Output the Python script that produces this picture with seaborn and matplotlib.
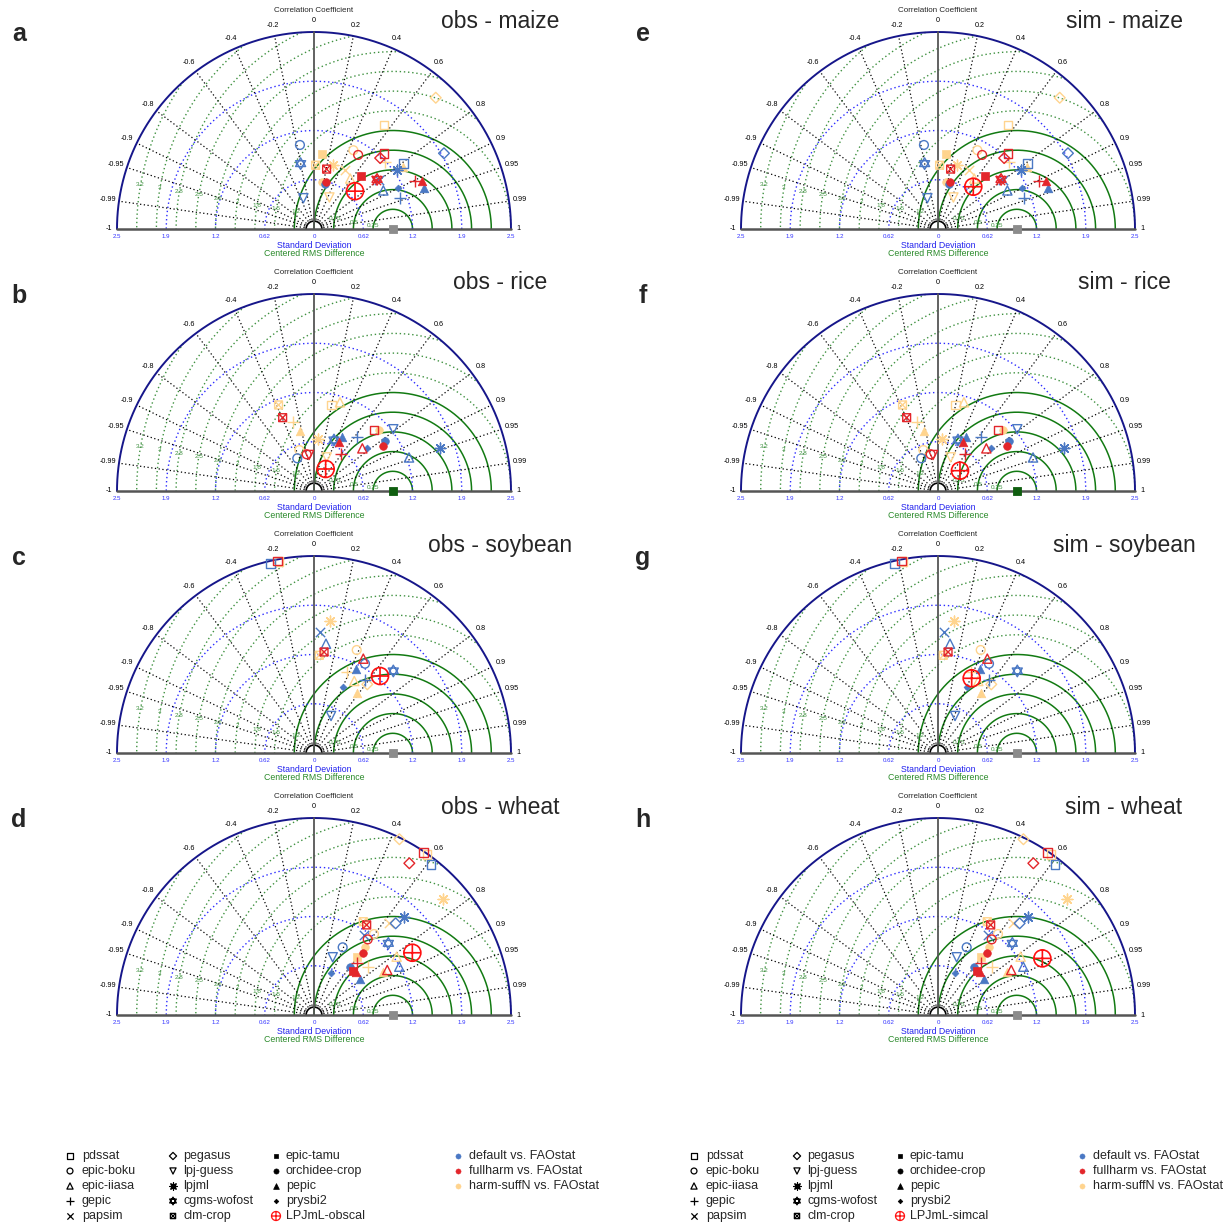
import numpy as np
import matplotlib
matplotlib.use("Agg")
import matplotlib.pyplot as plt
from matplotlib.path import Path
import seaborn as sns

# ---------------- data (std. deviation, correlation) ----------------
CROPS = ["maize", "rice", "soybean", "wheat"]
PANEL_LETTERS_OBS = ["a", "b", "c", "d"]
PANEL_LETTERS_SIM = ["e", "f", "g", "h"]

MAIZE_DEFAULT = [("pdssat", 1.410, 0.808), ("epic-boku", 1.081, -0.165), ("epic-iiasa", 1.007, 0.874),
                 ("gepic", 1.161, 0.939), ("papsim", 1.036, 0.801), ("pegasus", 1.909, 0.864),
                 ("lpj-guess", 0.413, -0.327), ("lpjml", 1.294, 0.815), ("cgms-wofost", 0.847, -0.201),
                 ("orchidee-crop", 0.587, 0.238), ("pepic", 1.493, 0.937), ("prysbi2", 1.190, 0.899)]
MAIZE_FULLHARM = [("pdssat", 1.309, 0.680), ("epic-boku", 1.094, 0.512), ("gepic", 1.418, 0.903),
                  ("papsim", 1.004, 0.787), ("pegasus", 1.231, 0.682), ("cgms-wofost", 1.018, 0.786),
                  ("clm-crop", 0.777, 0.206), ("epic-tamu", 0.893, 0.661), ("orchidee-crop", 0.618, 0.243),
                  ("pepic", 1.500, 0.913)]
MAIZE_HARMSUFFN = [("pdssat", 1.591, 0.558), ("epic-boku", 1.118, 0.447), ("epic-iiasa", 0.788, 0.584),
                   ("gepic", 1.238, 0.727), ("papsim", 0.845, 0.461), ("pegasus", 2.272, 0.680),
                   ("lpj-guess", 0.445, 0.438), ("lpjml", 0.846, 0.290), ("clm-crop", 0.810, 0.025),
                   ("epic-tamu", 0.956, 0.110), ("orchidee-crop", 0.608, 0.164), ("pepic", 1.379, 0.819)]
MAIZE_LPJML_OBS = (0.708, 0.735)
MAIZE_LPJML_SIM = (0.699, 0.641)

RICE_DEFAULT = [("epic-boku", 0.466, -0.455), ("epic-iiasa", 1.279, 0.943), ("gepic", 0.877, 0.618),
                ("lpj-guess", 1.275, 0.789), ("lpjml", 1.688, 0.947), ("cgms-wofost", 0.695, 0.365),
                ("orchidee-crop", 1.102, 0.817), ("pepic", 0.773, 0.454), ("prysbi2", 0.872, 0.776)]
RICE_FULLHARM = [("epic-boku", 0.475, -0.196), ("epic-iiasa", 0.818, 0.750), ("gepic", 0.579, 0.592),
                 ("pdssat", 1.086, 0.701), ("lpj-guess", 0.461, -0.137), ("clm-crop", 1.012, -0.393),
                 ("orchidee-crop", 1.049, 0.839), ("pepic", 0.702, 0.452)]
RICE_HARMSUFFN = [("pdssat", 1.114, 0.201), ("epic-boku", 0.552, -0.337), ("epic-iiasa", 1.173, 0.281),
                  ("gepic", 0.912, -0.296), ("lpj-guess", 0.456, 0.353), ("lpjml", 0.662, 0.083),
                  ("clm-crop", 1.181, -0.381), ("orchidee-crop", 1.134, 0.731), ("pepic", 0.785, -0.227)]
RICE_LPJML_OBS = (0.316, 0.468)
RICE_LPJML_SIM = (0.380, 0.734)

SOY_DEFAULT = [("pdssat", 2.464, -0.223), ("papsim", 1.542, 0.049), ("epic-iiasa", 1.395, 0.109),
               ("epic-boku", 1.305, 0.496), ("pepic", 1.188, 0.449), ("cgms-wofost", 1.448, 0.695),
               ("gepic", 1.126, 0.575), ("prysbi2", 0.917, 0.397), ("lpj-guess", 0.517, 0.418)]
SOY_FULLHARM = [("pdssat", 2.480, -0.186), ("epic-iiasa", 1.351, 0.463), ("clm-crop", 1.288, 0.099)]
SOY_HARMSUFFN = [("pdssat", 2.470, -0.180), ("lpjml", 1.687, 0.120), ("clm-crop", 1.242, 0.054),
                 ("epic-boku", 1.415, 0.383), ("gepic", 1.112, 0.373), ("epic-iiasa", 1.047, 0.488),
                 ("pegasus", 1.103, 0.613), ("pepic", 0.938, 0.578)]
SOY_LPJML_OBS = (1.287, 0.651)
SOY_LPJML_SIM = (1.040, 0.411)

WHEAT_DEFAULT = [("pdssat", 2.421, 0.613), ("lpjml", 1.691, 0.675), ("pegasus", 1.558, 0.665),
                 ("papsim", 1.199, 0.532), ("epic-boku", 0.933, 0.390), ("lpj-guess", 0.770, 0.308),
                 ("cgms-wofost", 1.310, 0.720), ("epic-iiasa", 1.244, 0.870), ("orchidee-crop", 0.758, 0.603),
                 ("prysbi2", 0.570, 0.372), ("pepic", 0.739, 0.790)]
WHEAT_FULLHARM = [("pdssat", 2.487, 0.558), ("pegasus", 2.274, 0.532), ("clm-crop", 1.324, 0.505),
                  ("epic-boku", 1.177, 0.579), ("orchidee-crop", 1.008, 0.621), ("epic-iiasa", 1.091, 0.852),
                  ("gepic", 0.851, 0.637), ("pepic", 0.766, 0.696), ("epic-tamu", 0.752, 0.664)]
WHEAT_HARMSUFFN = [("pegasus", 2.480, 0.437), ("pdssat", 2.490, 0.575), ("lpjml", 2.204, 0.744),
                   ("papsim", 1.512, 0.632), ("clm-crop", 1.339, 0.467), ("epic-boku", 1.279, 0.595),
                   ("orchidee-crop", 1.082, 0.598), ("epic-tamu", 0.917, 0.591), ("epic-iiasa", 1.284, 0.817),
                   ("pepic", 1.038, 0.848), ("gepic", 0.922, 0.747)]
WHEAT_LPJML_OBS = (1.477, 0.845)
WHEAT_LPJML_SIM = (1.507, 0.879)

REF_STD = 1.0
REF_COLORS = ["#8c8c8c", "#0f5e0f", "#8c8c8c", "#8c8c8c"]

STD_TICKS = [0.625, 1.25, 1.875, 2.5]
STD_TICK_LABELS = ["0.62", "1.2", "1.9", "2.5"]
CORR_TICKS = [0, 0.2, 0.4, 0.6, 0.8, 0.9, 0.95, 0.99, 1,
              -0.2, -0.4, -0.6, -0.8, -0.9, -0.95, -0.99, -1]
CORR_LABELS = ["0", "0.2", "0.4", "0.6", "0.8", "0.9", "0.95", "0.99", "1",
               "-0.2", "-0.4", "-0.6", "-0.8", "-0.9", "-0.95", "-0.99", "-1"]
RMS_LEVELS = [0.25, 0.5, 0.75, 1.0, 1.25, 1.5, 1.75, 2.0, 2.25, 2.5, 2.75, 3.0, 3.25]
RMS_LABELS = ["0.25", "0.5", "0.75", "", "1.2", "1.5", "1.8", "2", "2.2", "2.5", "2.8", "3", "3.2"]

LEGEND_MODELS = [["pdssat", "epic-boku", "epic-iiasa", "gepic", "papsim"],
                 ["pegasus", "lpj-guess", "lpjml", "cgms-wofost", "clm-crop"],
                 ["epic-tamu", "orchidee-crop", "pepic", "prysbi2", "LPJmL"]]
VARIANT_LABELS = ["default vs. FAOstat", "fullharm vs. FAOstat", "harm-suffN vs. FAOstat"]

# ---------------- styling ----------------
C_DEF = "#4a78c4"
C_FULL = "#e3262b"
C_HARM = "#ffd48e"
C_LPJ = "#ff1010"
VARIANT_COLORS = [C_DEF, C_FULL, C_HARM]

sns.set_theme(style="white")
plt.rcParams["font.family"] = ["Liberation Sans", "DejaVu Sans"]

W, H = 1228, 1226
PX = 78.8


def compound(*paths):
    return Path.make_compound_path(*paths)


STAR = compound(
    Path([(0, 1), (-0.866, -0.5), (0.866, -0.5), (0, 1)],
         [Path.MOVETO, Path.LINETO, Path.LINETO, Path.CLOSEPOLY]),
    Path([(0, -1), (-0.866, 0.5), (0.866, 0.5), (0, -1)],
         [Path.MOVETO, Path.LINETO, Path.LINETO, Path.CLOSEPOLY]))
CLM = compound(
    Path([(-1, -1), (1, -1), (1, 1), (-1, 1), (-1, -1)],
         [Path.MOVETO, Path.LINETO, Path.LINETO, Path.LINETO, Path.CLOSEPOLY]),
    Path([(-1, -1), (1, 1), (-1, 1), (1, -1)],
         [Path.MOVETO, Path.LINETO, Path.MOVETO, Path.LINETO]))
OPLUS = compound(
    Path.unit_circle(),
    Path([(-1, 0), (1, 0), (0, -1), (0, 1)],
         [Path.MOVETO, Path.LINETO, Path.MOVETO, Path.LINETO]))

# marker, kind ('open', 'filled', 'line'), size
MARKERS = {
    "pdssat": ("s", "open", 38),
    "epic-boku": ("o", "open", 40),
    "epic-iiasa": ("^", "open", 44),
    "gepic": ("+", "line", 70),
    "papsim": ("x", "line", 45),
    "pegasus": ("D", "open", 30),
    "lpj-guess": ("v", "open", 44),
    "lpjml": ((8, 2, 0), "line", 60),
    "cgms-wofost": (STAR, "open", 70),
    "clm-crop": (CLM, "open", 32),
    "epic-tamu": ("s", "filled", 28),
    "orchidee-crop": ("o", "filled", 30),
    "pepic": ("^", "filled", 38),
    "prysbi2": ("D", "filled", 12),
    "LPJmL": (OPLUS, "open", 150),
}


def put(ax, x, y, model, color, scale=1.0, lw=1.0):
    m, kind, s = MARKERS[model]
    s = s * scale
    common = dict(x=np.atleast_1d(x), y=np.atleast_1d(y), ax=ax, marker=m, s=s,
                  legend=False, zorder=6, clip_on=False)
    if kind == "line":
        sns.scatterplot(color=color, linewidth=lw, **common)
    elif kind == "filled":
        sns.scatterplot(color=color, edgecolor=color, linewidth=0.5, **common)
    else:
        sns.scatterplot(color=color, facecolor="none", edgecolor=color, linewidth=lw, **common)


def polar_xy(std, cor):
    std = np.asarray(std, float)
    cor = np.asarray(cor, float)
    return std * cor, std * np.sqrt(np.clip(1 - cor ** 2, 0, None))


def fig_text(fig, px, py, s, **kw):
    fig.text(px / W, 1 - py / H, s, **kw)


def draw_panel(fig, ox, oy, variants, lpj, ref_color, title, letter):
    x0, x1, y0, y1 = -3.3, 3.3, -0.45, 2.9
    ax = fig.add_axes([(ox + x0 * PX) / W, 1 - (oy - y0 * PX) / H,
                       (x1 - x0) * PX / W, (y1 - y0) * PX / H])
    ax.set_xlim(x0, x1)
    ax.set_ylim(y0, y1)
    ax.axis("off")
    ax.patch.set_alpha(0)

    R = STD_TICKS[-1]
    th = np.linspace(0, np.pi, 600)
    # RMS arcs around the reference point
    phi = np.linspace(0, np.pi, 3000)
    for r, lab in zip(RMS_LEVELS, RMS_LABELS):
        xs = REF_STD + r * np.cos(phi)
        ys = r * np.sin(phi)
        bad = xs ** 2 + ys ** 2 > R ** 2 + 1e-9
        xs = np.where(bad, np.nan, xs)
        ys = np.where(bad, np.nan, ys)
        if r <= 1.25:
            ax.plot(xs, ys, color="#127a12", lw=1.1, zorder=2)
        else:
            ax.plot(xs, ys, color="#3f9140", lw=1.0, ls=(0, (1, 2)), zorder=2)
        if lab:
            a = np.deg2rad(170)
            ax.text(REF_STD + r * np.cos(a), r * np.sin(a), lab, color="#3f9140",
                    fontsize=4.6, ha="center", va="center", zorder=3)
    # std arcs
    for r in STD_TICKS[:-1]:
        ax.plot(r * np.cos(th), r * np.sin(th), color="#2b2bff", lw=1.0,
                ls=(0, (1, 2)), zorder=2)
    # radial correlation lines
    for c in CORR_TICKS:
        if abs(c) in (0, 1):
            continue
        a = np.arccos(c)
        ax.plot([0.12 * np.cos(a), R * np.cos(a)], [0.12 * np.sin(a), R * np.sin(a)],
                color="black", lw=0.9, ls=(0, (1, 2)), zorder=2)
    small = np.linspace(0, np.pi, 50)
    ax.plot(0.1 * np.cos(small), 0.1 * np.sin(small), color="black", lw=1.2, zorder=3)
    # frame
    ax.plot(R * np.cos(th), R * np.sin(th), color="#16168a", lw=1.4, zorder=3)
    ax.plot([-R, R], [0, 0], color="#555555", lw=1.8, zorder=3)
    ax.plot([0, 0], [0, R], color="#555555", lw=1.3, zorder=3)
    # correlation labels
    for c, lab in zip(CORR_TICKS, CORR_LABELS):
        a = np.arccos(c)
        rr = 2.64 if abs(c) < 1 else 2.60
        ax.text(rr * np.cos(a), rr * np.sin(a), lab, fontsize=5.2, ha="center",
                va="center", color="black", zorder=3)
    ax.text(0, 2.77, "Correlation Coefficient", fontsize=5.8, ha="center", va="center")
    # std tick labels
    for v, lab in zip(STD_TICKS, STD_TICK_LABELS):
        for sgn in (-1, 1):
            ax.text(sgn * v, -0.1, lab, fontsize=4.4, color="#3333ff", ha="center", va="center")
    ax.text(0, -0.1, "0", fontsize=4.4, color="#3333ff", ha="center", va="center")
    ax.text(0, -0.205, "Standard Deviation", fontsize=6.3, color="#2222ee", ha="center", va="center")
    ax.text(0, -0.305, "Centered RMS Difference", fontsize=6.3, color="#2a8a2a", ha="center", va="center")

    # reference point
    sns.scatterplot(x=[REF_STD], y=[0.0], ax=ax, marker="s", s=40, color=ref_color,
                    edgecolor=ref_color, linewidth=0.6, legend=False, zorder=7, clip_on=False)
    # model points (harm-suffN first, then default, then fullharm)
    for idx in (2, 0, 1):
        for model, sd, cr in variants[idx]:
            x, y = polar_xy(sd, cr)
            put(ax, x, y, model, VARIANT_COLORS[idx])
    lx, ly = polar_xy(*lpj)
    put(ax, lx, ly, "LPJmL", C_LPJ, lw=1.2)

    fig_text(fig, ox + 186, oy - 208, title, fontsize=16.5, ha="center", va="center")
    fig_text(fig, ox - 295, oy - 195, letter,
             fontsize=18, fontweight="bold", ha="center", va="center")


def draw_legend(fig, x_off, lpj_label):
    ax = fig.add_axes([0, 0, 1, 1])
    ax.set_xlim(0, W)
    ax.set_ylim(H, 0)
    ax.axis("off")
    ax.patch.set_alpha(0)
    rows = [1156, 1171, 1186, 1201, 1216]
    col_m = [70, 173, 276]
    col_t = [82, 183, 286]
    for ci, models in enumerate(LEGEND_MODELS):
        for ri, model in enumerate(models):
            if model == "LPJmL":
                put(ax, col_m[ci] + x_off, rows[ri], model, C_LPJ, scale=0.28, lw=0.9)
            else:
                put(ax, col_m[ci] + x_off, rows[ri], model, "black", scale=0.45, lw=0.9)
            lab = lpj_label if model == "LPJmL" else model
            ax.text(col_t[ci] + x_off, rows[ri], lab, fontsize=9, ha="left", va="center")
    for ri, (lab, col) in enumerate(zip(VARIANT_LABELS, VARIANT_COLORS)):
        sns.scatterplot(x=[458 + x_off], y=[rows[ri]], ax=ax, marker="o", s=14, color=col,
                        edgecolor=col, linewidth=0.3, legend=False, clip_on=False)
        ax.text(469 + x_off, rows[ri], lab, fontsize=9, ha="left", va="center")


fig = plt.figure(figsize=(W / 100, H / 100), dpi=100)
fig.patch.set_facecolor("white")

ORIGINS_Y = [229, 491, 753, 1015]
ALL = [
    (MAIZE_DEFAULT, MAIZE_FULLHARM, MAIZE_HARMSUFFN, MAIZE_LPJML_OBS, MAIZE_LPJML_SIM),
    (RICE_DEFAULT, RICE_FULLHARM, RICE_HARMSUFFN, RICE_LPJML_OBS, RICE_LPJML_SIM),
    (SOY_DEFAULT, SOY_FULLHARM, SOY_HARMSUFFN, SOY_LPJML_OBS, SOY_LPJML_SIM),
    (WHEAT_DEFAULT, WHEAT_FULLHARM, WHEAT_HARMSUFFN, WHEAT_LPJML_OBS, WHEAT_LPJML_SIM),
]
for i, crop in enumerate(CROPS):
    d, f, h, lo, ls_ = ALL[i]
    draw_panel(fig, 314, ORIGINS_Y[i], (d, f, h), lo, REF_COLORS[i],
               f"obs - {crop}", PANEL_LETTERS_OBS[i])
    draw_panel(fig, 938, ORIGINS_Y[i], (d, f, h), ls_, REF_COLORS[i],
               f"sim - {crop}", PANEL_LETTERS_SIM[i])

draw_legend(fig, 0, "LPJmL-obscal")
draw_legend(fig, 624, "LPJmL-simcal")

fig.savefig("out.png", dpi=100, facecolor="white")
